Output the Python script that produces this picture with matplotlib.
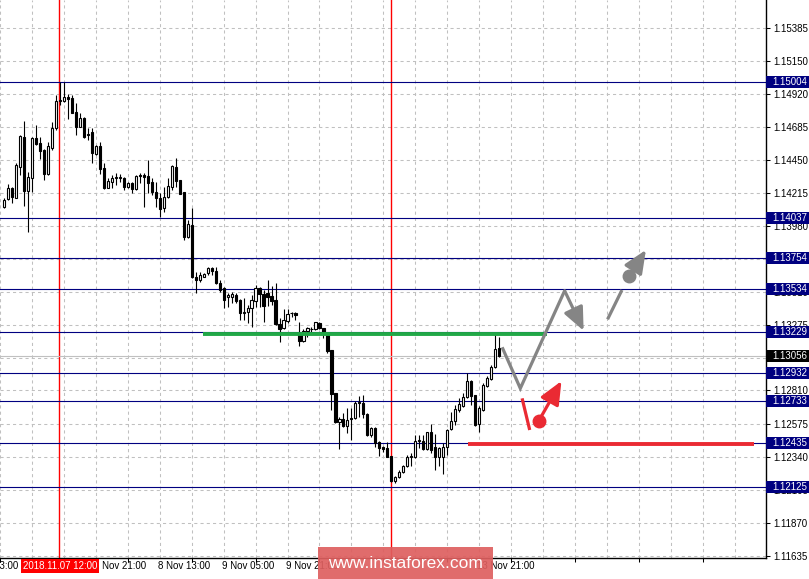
import matplotlib
matplotlib.use('Agg')
import matplotlib.pyplot as plt
import matplotlib.transforms as mtrans
from matplotlib.patches import Rectangle
import numpy as np

# ---------------- data ----------------
bar_index = list(range(1, 126))

opens = [
1.14116, 1.14171, 1.14247, 1.14180, 1.14401, 1.14610, 1.14228, 1.14318, 1.14603, 1.14567,
1.14520, 1.14349, 1.14536, 1.14674, 1.14868, 1.14870, 1.14899, 1.14891, 1.14788, 1.14685,
1.14749, 1.14635, 1.14650, 1.14489, 1.14548, 1.14390, 1.14251, 1.14294, 1.14323, 1.14320,
1.14318, 1.14259, 1.14287, 1.14240, 1.14342, 1.14342, 1.14335, 1.14290, 1.14223, 1.14176,
1.14105, 1.14183, 1.14259, 1.14401, 1.14306, 1.14219, 1.13903, 1.13986, 1.13619, 1.13595,
1.13619, 1.13643, 1.13678, 1.13659, 1.13576, 1.13536, 1.13472, 1.13472, 1.13489, 1.13453,
1.13363, 1.13370, 1.13394, 1.13448, 1.13536, 1.13496, 1.13501, 1.13482, 1.13453, 1.13282,
1.13252, 1.13306, 1.13358, 1.13358, 1.13211, 1.13163, 1.13235, 1.13247, 1.13247, 1.13292,
1.13252, 1.13216, 1.13098, 1.12790, 1.12588, 1.12607, 1.12559, 1.12616, 1.12612, 1.12730,
1.12723, 1.12643, 1.12493, 1.12541, 1.12441, 1.12410, 1.12399, 1.12344, 1.12168, 1.12192,
1.12228, 1.12275, 1.12335, 1.12335, 1.12453, 1.12453, 1.12392, 1.12512, 1.12406, 1.12335,
1.12335, 1.12406, 1.12534, 1.12593, 1.12671, 1.12702, 1.12766, 1.12877, 1.12777, 1.12571,
1.12671, 1.12842, 1.12889, 1.12979, 1.13114]

highs = [
1.14180, 1.14276, 1.14259, 1.14425, 1.14626, 1.14726, 1.14365, 1.14614, 1.14697, 1.14610,
1.14527, 1.14579, 1.14721, 1.14911, 1.15005, 1.15001, 1.14916, 1.14911, 1.14852, 1.14780,
1.14756, 1.14674, 1.14678, 1.14555, 1.14579, 1.14425, 1.14323, 1.14342, 1.14354, 1.14349,
1.14330, 1.14294, 1.14294, 1.14342, 1.14354, 1.14354, 1.14448, 1.14318, 1.14294, 1.14212,
1.14259, 1.14318, 1.14413, 1.14461, 1.14306, 1.14219, 1.14022, 1.14105, 1.13654, 1.13654,
1.13645, 1.13690, 1.13690, 1.13690, 1.13595, 1.13548, 1.13505, 1.13512, 1.13501, 1.13458,
1.13465, 1.13418, 1.13489, 1.13560, 1.13548, 1.13524, 1.13595, 1.13552, 1.13576, 1.13323,
1.13387, 1.13387, 1.13370, 1.13370, 1.13299, 1.13245, 1.13259, 1.13263, 1.13299, 1.13299,
1.13252, 1.13216, 1.13098, 1.12790, 1.12623, 1.12647, 1.12687, 1.12683, 1.12737, 1.12770,
1.12777, 1.12647, 1.12552, 1.12548, 1.12451, 1.12415, 1.12446, 1.12344, 1.12202, 1.12244,
1.12280, 1.12351, 1.12367, 1.12493, 1.12493, 1.12493, 1.12517, 1.12571, 1.12500, 1.12410,
1.12434, 1.12534, 1.12654, 1.12706, 1.12754, 1.12790, 1.12932, 1.12884, 1.12777, 1.12699,
1.12861, 1.12913, 1.12991, 1.13216, 1.13192]

lows = [
1.14105, 1.14164, 1.14141, 1.14176, 1.14342, 1.14123, 1.13939, 1.14223, 1.14555, 1.14456,
1.14306, 1.14342, 1.14520, 1.14662, 1.14839, 1.14863, 1.14738, 1.14780, 1.14626, 1.14681,
1.14603, 1.14591, 1.14425, 1.14484, 1.14347, 1.14242, 1.14247, 1.14247, 1.14271, 1.14290,
1.14235, 1.14247, 1.14216, 1.14235, 1.14283, 1.14116, 1.14212, 1.14200, 1.14116, 1.14041,
1.14081, 1.14176, 1.14235, 1.14259, 1.14207, 1.13880, 1.13892, 1.13608, 1.13505, 1.13583,
1.13617, 1.13631, 1.13631, 1.13567, 1.13512, 1.13398, 1.13405, 1.13430, 1.13434, 1.13311,
1.13311, 1.13287, 1.13263, 1.13405, 1.13405, 1.13299, 1.13411, 1.13418, 1.13275, 1.13156,
1.13245, 1.13287, 1.13334, 1.13311, 1.13126, 1.13156, 1.13192, 1.13228, 1.13240, 1.13245,
1.13181, 1.13074, 1.12671, 1.12576, 1.12394, 1.12552, 1.12505, 1.12458, 1.12605, 1.12623,
1.12612, 1.12486, 1.12481, 1.12410, 1.12344, 1.12374, 1.12335, 1.12161, 1.12154, 1.12185,
1.12221, 1.12268, 1.12273, 1.12328, 1.12399, 1.12387, 1.12387, 1.12367, 1.12244, 1.12273,
1.12213, 1.12351, 1.12529, 1.12564, 1.12659, 1.12694, 1.12754, 1.12706, 1.12557, 1.12517,
1.12666, 1.12837, 1.12884, 1.12967, 1.13046]

closes = [
1.14164, 1.14251, 1.14183, 1.14413, 1.14619, 1.14228, 1.14325, 1.14603, 1.14562, 1.14515,
1.14347, 1.14548, 1.14674, 1.14868, 1.14875, 1.14896, 1.14882, 1.14785, 1.14685, 1.14745,
1.14614, 1.14624, 1.14496, 1.14548, 1.14384, 1.14247, 1.14299, 1.14323, 1.14325, 1.14325,
1.14259, 1.14287, 1.14240, 1.14335, 1.14337, 1.14325, 1.14287, 1.14223, 1.14176, 1.14100,
1.14183, 1.14264, 1.14406, 1.14301, 1.14207, 1.13903, 1.13993, 1.13619, 1.13595, 1.13631,
1.13638, 1.13678, 1.13659, 1.13572, 1.13524, 1.13453, 1.13489, 1.13494, 1.13446, 1.13363,
1.13368, 1.13394, 1.13453, 1.13536, 1.13496, 1.13413, 1.13477, 1.13448, 1.13280, 1.13247,
1.13311, 1.13351, 1.13358, 1.13346, 1.13163, 1.13235, 1.13252, 1.13248, 1.13294, 1.13252,
1.13228, 1.13093, 1.12785, 1.12583, 1.12605, 1.12559, 1.12600, 1.12605, 1.12723, 1.12723,
1.12643, 1.12493, 1.12545, 1.12434, 1.12403, 1.12392, 1.12339, 1.12168, 1.12192, 1.12232,
1.12275, 1.12339, 1.12344, 1.12451, 1.12458, 1.12392, 1.12512, 1.12387, 1.12335, 1.12403,
1.12410, 1.12529, 1.12593, 1.12676, 1.12714, 1.12766, 1.12877, 1.12770, 1.12564, 1.12687,
1.12849, 1.12896, 1.12979, 1.13102, 1.13056]

assert len(opens) == len(highs) == len(lows) == len(closes) == len(bar_index)

# horizontal support / resistance levels
levels = [1.15004, 1.14037, 1.13754, 1.13534, 1.13229, 1.12932, 1.12733, 1.12435, 1.12125]
current_price = 1.13056

# right axis tick labels
price_ticks = [1.15385, 1.15150, 1.14920, 1.14685, 1.14450, 1.14215, 1.13980, 1.13745,
               1.13510, 1.13275, 1.13040, 1.12810, 1.12575, 1.12340, 1.12105, 1.11870, 1.11635]

# time axis labels (bar index -> label); labels that the reference hides completely are left out
time_tick_bars = [-8, 24, 40, 56, 72, 120]
time_tick_labels = ["6 Nov 13:00", "7 Nov 21:00", "8 Nov 13:00", "9 Nov 05:00",
                    "9 Nov 21:00", "13 Nov 21:00"]

# vertical red separators
vline_bars = [15, 98]
vline_label = "2018.11.07 12:00"

# forecast annotations (bar, price)
green_bars, green_price = [50.8, 137.0], 1.13215
red_bars, red_price = [117.3, 188.8], 1.12428
gray_path_x = [125.75, 130.3, 141.4, 146.15]
gray_path_y = [1.13117, 1.12825, 1.13519, 1.13235]
gray2_x = [152.15, 155.75]
gray2_y = [1.13316, 1.13524]
gray2_dot = (157.6, 1.13624)
gray2_tip = (161.75, 1.13809)
red_seg_x = [130.75, 132.65]
red_seg_y = [1.12754, 1.12529]
red_dot = (134.9, 1.12593)
red_tip = (140.6, 1.12877)

# ---------------- figure ----------------
W, H, DPI = 809, 579, 100
FONT = 'Liberation Sans'
fig = plt.figure(figsize=(W / DPI, H / DPI), dpi=DPI, facecolor='white')
AX_L, AX_R, AX_B, AX_T = 0, 766, 21, 579  # pixel box of plotting area (from bottom)
ax = fig.add_axes([AX_L / W, AX_B / H, (AX_R - AX_L) / W, (AX_T - AX_B) / H])
ax.set_facecolor('white')

ymin, ymax = 1.11619, 1.15586
ax.set_xlim(0.325, 191.825)
ax.set_ylim(ymin, ymax)
px_y = (ymax - ymin) / (AX_T - AX_B)   # price per pixel

# grid
ax.set_xticks(np.arange(0, 192, 16))
ax.set_xticks(np.arange(8, 192, 16), minor=True)
ax.set_yticks(price_ticks)
ax.grid(True, which='both', color='#c0c0c0', linestyle=(0, (3, 3)), linewidth=0.75, zorder=0)
ax.set_axisbelow(True)
ax.tick_params(axis='x', which='major', length=3, width=0.75, direction='out', labelbottom=False)
ax.tick_params(axis='x', which='minor', length=0, labelbottom=False)
ax.yaxis.tick_right()
ax.tick_params(axis='y', length=3, width=0.75, direction='out', pad=2.5, labelsize=7,
               labelright=True, labelleft=False, colors='black')
ax.set_yticklabels([f"{p:.5f}" for p in price_ticks], fontfamily=FONT)
for s in ['left', 'top']:
    ax.spines[s].set_visible(False)
for s in ['right', 'bottom']:
    ax.spines[s].set_linewidth(1.0)
    ax.spines[s].set_color('black')

# vertical separators
for b in vline_bars:
    ax.axvline(b - 0.1, color='#ff0000', lw=1.0, zorder=1)

# horizontal levels
for p in levels:
    ax.axhline(p, color='#000080', lw=0.8, zorder=1.5)
ax.axhline(current_price, color='#c0c0c0', lw=0.8, zorder=1.4)

# candles
for i, o, h, l, c in zip(bar_index, opens, highs, lows, closes):
    ax.vlines(i, l, h, color='black', lw=0.8, zorder=3)
    bull = c >= o
    bottom = min(o, c)
    height = max(abs(c - o), px_y * 0.01)
    ax.add_patch(Rectangle((i - 0.27, bottom), 0.54, height,
                           facecolor='white' if bull else 'black',
                           edgecolor='black', lw=0.8, zorder=4))

# forecast drawings
ax.plot(green_bars, [green_price] * 2, color='#21a846', lw=2.8, solid_capstyle='butt', zorder=5)
ax.plot(red_bars, [red_price] * 2, color='#ea2a33', lw=2.8, solid_capstyle='butt', zorder=5)

GRAY = '#858585'
REDC = '#ea2a33'
ax.plot(gray_path_x[:-1], gray_path_y[:-1], color=GRAY, lw=2.3, zorder=6,
        solid_capstyle='butt', solid_joinstyle='miter')
ax.annotate('', xy=(gray_path_x[-1], gray_path_y[-1]), xytext=(gray_path_x[-2], gray_path_y[-2]),
            arrowprops=dict(arrowstyle='-|>,head_length=0.5,head_width=0.22', color=GRAY, lw=2.3,
                            mutation_scale=28, shrinkA=0, shrinkB=0), zorder=6)
ax.plot(gray2_x, gray2_y, color=GRAY, lw=2.3, zorder=6, solid_capstyle='butt')
ax.plot([gray2_dot[0]], [gray2_dot[1]], 'o', color=GRAY, ms=9, zorder=6)
ax.annotate('', xy=gray2_tip, xytext=gray2_dot,
            arrowprops=dict(arrowstyle='-|>,head_length=0.5,head_width=0.22', color=GRAY, lw=2.3,
                            mutation_scale=28, shrinkA=0, shrinkB=0), zorder=6)
ax.plot(red_seg_x, red_seg_y, color=REDC, lw=2.3, zorder=6, solid_capstyle='butt')
ax.plot([red_dot[0]], [red_dot[1]], 'o', color=REDC, ms=9, zorder=6)
ax.annotate('', xy=red_tip, xytext=red_dot,
            arrowprops=dict(arrowstyle='-|>,head_length=0.5,head_width=0.22', color=REDC, lw=2.3,
                            mutation_scale=28, shrinkA=0, shrinkB=0), zorder=6)

# level price boxes on the right axis
tb = mtrans.blended_transform_factory(fig.transFigure, ax.transData)
box_h = 12 * px_y
for p in levels + [current_price]:
    fc = 'black' if p == current_price else '#000080'
    r = Rectangle((AX_R / W, p - box_h / 2), (W - AX_R) / W, box_h, transform=tb,
                  facecolor=fc, edgecolor='none', clip_on=False, zorder=10)
    fig.add_artist(r)
    fig.text(772 / W, p, f"{p:.5f}", transform=tb, color='white', fontsize=7,
             fontfamily=FONT, va='center', ha='left', zorder=11)

# time labels
tx = mtrans.blended_transform_factory(ax.transData, fig.transFigure)
off = mtrans.ScaledTranslation(-2 / DPI, 0, fig.dpi_scale_trans)
for b, lab in zip(time_tick_bars, time_tick_labels):
    ax.text(b, (H - 566) / H, lab, transform=tx + off, fontsize=7, fontfamily=FONT,
            ha='left', va='center', color='black', clip_on=False, zorder=8)

# red date box for the first separator
ax.text(vline_bars[0], (H - 566) / H, vline_label, transform=tx, fontsize=7, fontfamily=FONT,
        ha='center', va='center', color='white', clip_on=False, zorder=12,
        bbox=dict(boxstyle='square,pad=0.18', facecolor='#ff0000', edgecolor='none'))

# watermark
fig.add_artist(Rectangle((318 / W, 0), (493 - 318) / W, 32 / H, transform=fig.transFigure,
                         facecolor='#de5f5f', edgecolor='none', alpha=0.92, zorder=20))
fig.text(405.5 / W, (H - 564) / H, "www.instaforex.com", color='white', fontsize=12.5,
         fontfamily=FONT, ha='center', va='center', zorder=21)

fig.savefig('out.png', dpi=DPI, facecolor='white')
